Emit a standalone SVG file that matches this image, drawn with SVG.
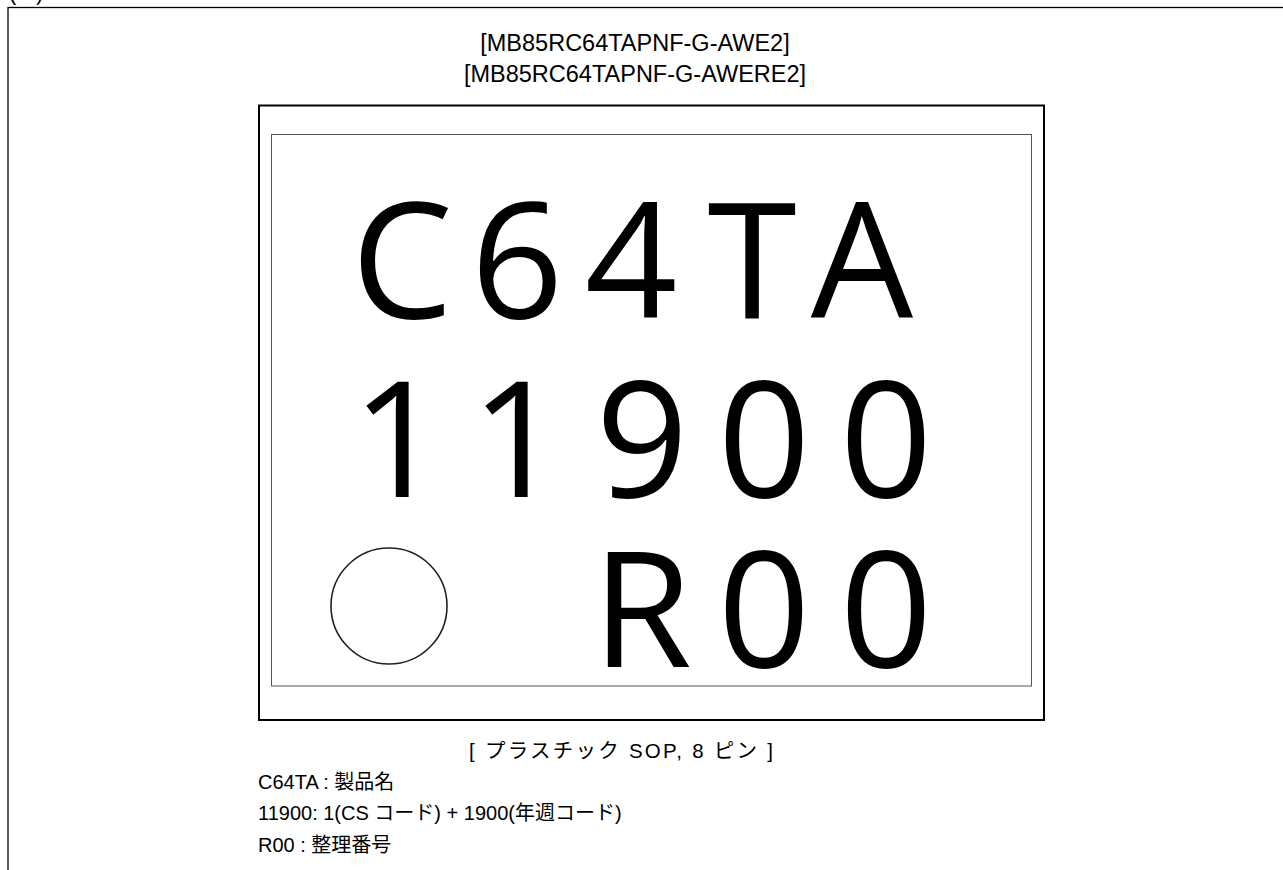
<svg xmlns="http://www.w3.org/2000/svg" width="1283" height="870" viewBox="0 0 1283 870">
<style>
.lbl{font-family:"Liberation Sans",Arial,"Noto Sans CJK JP",sans-serif;fill:#000}
.big{font-family:"Open Sans","Noto Sans",sans-serif;font-size:162px;fill:#000;text-anchor:middle}
</style>
<rect width="1283" height="870" fill="#fff"/>
<g id="frame">
<text class="lbl" x="9 36" y="0" font-size="22">()</text>
<rect x="8" y="7.5" width="1400" height="1000" fill="none" stroke="#000" stroke-width="1.3"/>
</g>
<g id="title">
<text class="lbl" font-size="23.5" text-anchor="middle" x="635" y="51">[MB85RC64TAPNF-G-AWE2]</text>
<text class="lbl" font-size="23.5" text-anchor="middle" x="635" y="82">[MB85RC64TAPNF-G-AWERE2]</text>
</g>
<g id="package">
<rect x="259" y="105.5" width="785" height="614.5" fill="none" stroke="#000" stroke-width="2"/>
<rect x="271.5" y="134.5" width="760" height="551.5" fill="none" stroke="#555" stroke-width="1"/>
<circle cx="389" cy="606" r="58" fill="none" stroke="#231f20" stroke-width="1.6"/>
<text class="big" x="402 517 631 752 862" y="318">C64TA</text>
<text class="big" x="398 517 642 764 886" y="497">11900</text>
<text class="big" x="642 764 886" y="667">R00</text>
</g>
<g id="legend">
<text class="lbl" font-size="20.5" text-anchor="middle" x="621" y="758" textLength="304" lengthAdjust="spacing">[ プラスチック SOP, 8 ピン ]</text>
<text class="lbl" font-size="20" x="258" y="789">C64TA : 製品名</text>
<text class="lbl" font-size="20" x="258" y="820">11900: 1(CS コード) + 1900(年週コード)</text>
<text class="lbl" font-size="20" x="258" y="852">R00 : 整理番号</text>
</g>
</svg>
